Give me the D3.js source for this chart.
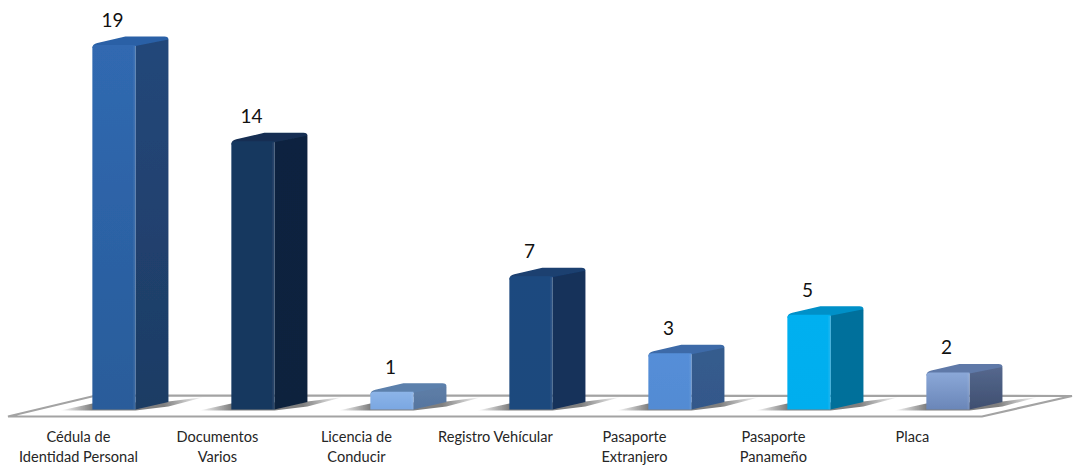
<!DOCTYPE html>
<meta charset="utf-8">
<style>
html, body { margin: 0; background: #fff; }
text { font-family: Lato, "Open Sans", sans-serif; fill: #1a1a1a; }
.cat { font-size: 14.6px; fill: #262626; }
.val { font-size: 19px; fill: #111; }
</style>
<body>
<script src="https://d3js.org/d3.v7.min.js"></script>
<script>
var categories = ["Cédula de|Identidad Personal", "Documentos|Varios", "Licencia de|Conducir",
                  "Registro Vehícular", "Pasaporte|Extranjero", "Pasaporte|Panameño", "Placa"];
var values = [19, 14, 1, 7, 3, 5, 2];
var frontTop = ["#3069b1", "#17375f", "#8cb4e8", "#1f497f", "#558ed8", "#00b0f0", "#8ba8d8"];
var frontBottom = ["#295c9a", "#17375e", "#7aa7e2", "#1f497d", "#528bd3", "#00aeee", "#6a86b8"];
var sideTop = ["#24477a", "#10243f", "#5f7fa8", "#15305a", "#365c8e", "#00709c", "#56698f"];
var sideBottom = ["#1d3c64", "#10243e", "#56759f", "#14305a", "#33588a", "#006f9a", "#3f4f70"];
var topFace = ["#2a61a6", "#142f52", "#5c80ac", "#1a3f70", "#3c6ba8", "#0090c8", "#5f79a8"];

var width = 1074,
    height = 465;

var svg = d3.select("body").append("svg")
    .attr("width", width)
    .attr("height", height)
    .style("display", "block");

var x = d3.scaleBand()
    .domain(categories)
    .range([44.4, 1017.4])
    .paddingInner(0.69)
    .paddingOuter(0.345);

var y = d3.scaleLinear()
    .domain([0, 19])
    .range([411, 45]);

var w = x.bandwidth(),
    dx = 33,
    dy = -7.5,
    base = y(0) - 1.5;

var defs = svg.append("defs");

function vGrad(id, c1, c2) {
  var g = defs.append("linearGradient").attr("id", id)
      .attr("x1", 0).attr("x2", 0).attr("y1", 0).attr("y2", 1);
  g.append("stop").attr("offset", 0).attr("stop-color", c1);
  g.append("stop").attr("offset", 1).attr("stop-color", c2);
}
values.forEach(function(v, i) {
  vGrad("front" + i, frontTop[i], frontBottom[i]);
  vGrad("side" + i, sideTop[i], sideBottom[i]);
});

var sh = defs.append("linearGradient").attr("id", "shadow");
sh.append("stop").attr("offset", 0).attr("stop-color", "#7f7f7f").attr("stop-opacity", 0);
sh.append("stop").attr("offset", 0.22).attr("stop-color", "#7f7f7f").attr("stop-opacity", 1);
sh.append("stop").attr("offset", 0.72).attr("stop-color", "#7f7f7f").attr("stop-opacity", 1);
sh.append("stop").attr("offset", 1).attr("stop-color", "#7f7f7f").attr("stop-opacity", 0);

defs.append("filter").attr("id", "soft")
    .append("feGaussianBlur").attr("stdDeviation", 0.55);

// floor
svg.append("path")
    .attr("d", "M8,416.5 L982,416.5 L1072,396 L96,395.5 Z")
    .attr("fill", "#fff")
    .attr("stroke", "#a3a3a3")
    .attr("stroke-width", 2.2)
    .attr("filter", "url(#soft)");

var bars = svg.selectAll("g.bar")
    .data(values)
    .enter().append("g")
    .attr("class", "bar");

// shadow on the floor
bars.append("path")
    .attr("d", function(d, i) {
      var x0 = x(categories[i]);
      return "M" + (x0 - 32) + "," + (base + 1) + " L" + x0 + "," + (base - 6) +
             " L" + (x0 + w + dx) + "," + (base - 8) + " L" + (x0 + w + dx + 36) + "," + (base - 12.5) +
             " L" + (x0 + w + dx) + "," + (base - 3) + " L" + (x0 + w) + "," + (base + 1) + " Z";
    })
    .attr("fill", "url(#shadow)")
    .attr("filter", "url(#soft)");

var solid = bars.append("g").attr("filter", "url(#soft)");

// side face
solid.append("path")
    .attr("d", function(d, i) {
      var x0 = x(categories[i]) + w, t = y(d);
      return "M" + x0 + "," + t + " L" + (x0 + dx - 3) + "," + (t + dy) +
             " Q" + (x0 + dx) + "," + (t + dy) + " " + (x0 + dx) + "," + (t + dy + 3) +
             " L" + (x0 + dx) + "," + (base + dy) + " L" + x0 + "," + base + " Z";
    })
    .attr("fill", function(d, i) { return "url(#side" + i + ")"; });

// top face
solid.append("path")
    .attr("d", function(d, i) {
      var x0 = x(categories[i]), t = y(d);
      return "M" + x0 + "," + (t + 3) + " Q" + x0 + "," + (t - 1) + " " + (x0 + 5) + "," + (t - 2) +
             " L" + (x0 + dx) + "," + (t + dy - 1) + " L" + (x0 + w + dx - 4) + "," + (t + dy - 1) +
             " Q" + (x0 + w + dx) + "," + (t + dy - 1) + " " + (x0 + w + dx) + "," + (t + dy + 2) +
             " L" + (x0 + w) + "," + (t + 1) + " Z";
    })
    .attr("fill", function(d, i) { return topFace[i]; });

// front face, top left corner cut round
solid.append("path")
    .attr("d", function(d, i) {
      var x0 = x(categories[i]), t = y(d);
      return "M" + x0 + "," + (t + 3) + " Q" + x0 + "," + t + " " + (x0 + 4) + "," + t +
             " L" + (x0 + w) + "," + t + " L" + (x0 + w) + "," + base + " L" + x0 + "," + base + " Z";
    })
    .attr("fill", function(d, i) { return "url(#front" + i + ")"; });

// lit edge between front and side
solid.append("rect")
    .attr("x", function(d, i) { return x(categories[i]) + w - 2; })
    .attr("y", function(d) { return y(d) + 1; })
    .attr("width", 2)
    .attr("height", function(d) { return base - y(d) - 1; })
    .attr("fill", "#fff")
    .attr("opacity", 0.07);

// value labels
svg.selectAll("text.val")
    .data(values)
    .enter().append("text")
    .attr("class", "val")
    .attr("x", function(d, i) { return x(categories[i]) + w / 2 - 1.5; })
    .attr("y", function(d) { return y(d) - 18; })
    .attr("text-anchor", "middle")
    .text(function(d) { return d; });

// category labels
var cats = svg.selectAll("text.cat")
    .data(categories)
    .enter().append("text")
    .attr("class", "cat")
    .attr("text-anchor", "middle");

cats.selectAll("tspan")
    .data(function(d) {
      return d.split("|").map(function(s) { return { line: s, cat: d }; });
    })
    .enter().append("tspan")
    .attr("x", function(d) { return x(d.cat) + w / 2 - 35.5; })
    .attr("y", function(d, i) { return 442 + i * 20; })
    .text(function(d) { return d.line; });
</script>
</body>
</html>
